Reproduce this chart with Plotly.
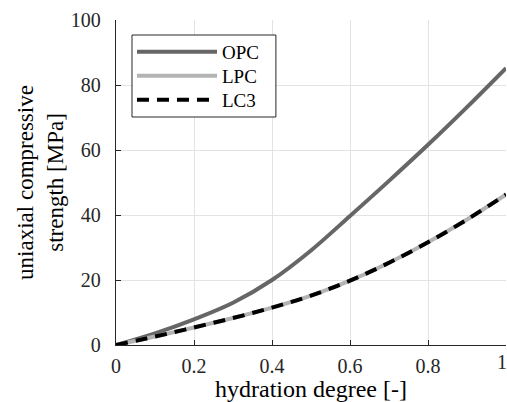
import plotly.graph_objects as go

hydration = [0.0, 0.1, 0.2, 0.3, 0.4, 0.5, 0.6, 0.7, 0.8, 0.9, 1.0]
opc = [0.0, 3.6, 7.9, 13.0, 20.0, 29.1, 39.7, 50.5, 61.6, 73.2, 85.2]
lpc = [0.0, 2.6, 5.4, 8.3, 11.5, 15.2, 19.8, 25.3, 31.6, 38.6, 46.3]
lc3 = [0.0, 2.6, 5.4, 8.3, 11.5, 15.2, 19.8, 25.3, 31.6, 38.6, 46.3]
series_names = ["OPC", "LPC", "LC3"]
x_ticks = [0, 0.2, 0.4, 0.6, 0.8, 1]
x_labels = ["0", "0.2", "0.4", "0.6", "0.8", "1"]
y_ticks = [0, 20, 40, 60, 80, 100]

FONT = "Liberation Serif"
AX = "#262626"

fig = go.Figure()
styles = [
    dict(color="#666666", width=4),
    dict(color="#b3b3b3", width=4),
    dict(color="#000000", width=4, dash="12px,8px"),
]
legend_ids = ["legend", "legend2", "legend3"]
for name, ys, st, lg in zip(series_names, [opc, lpc, lc3], styles, legend_ids):
    fig.add_trace(go.Scatter(x=hydration, y=ys, name=name, mode="lines",
                             line=dict(shape="spline", smoothing=1.0, **st),
                             legend=lg))

# legend frame (paper coordinates)
fig.add_shape(type="rect", xref="paper", yref="paper",
              x0=0.041, x1=0.410, y0=0.7015, y1=0.9538,
              line=dict(color=AX, width=1), fillcolor="white", layer="above")

# last x tick label, nudged inward so it stays on the page
fig.add_annotation(x=x_ticks[-1], y=y_ticks[0], xref="x", yref="y",
                   text=x_labels[-1], showarrow=False,
                   xanchor="center", yanchor="top", xshift=-4, yshift=-4,
                   font=dict(family=FONT, size=20, color=AX))

row_y = [0.9015, 0.8277, 0.7538]
leg_common = dict(x=0.041, xanchor="left", yanchor="middle",
                  bgcolor="rgba(0,0,0,0)", borderwidth=0,
                  font=dict(family=FONT, size=19, color="#000000"),
                  itemwidth=80)

fig.update_layout(
    width=507, height=402,
    margin=dict(l=116, r=1, t=20, b=57, autoexpand=False),
    paper_bgcolor="white", plot_bgcolor="white",
    font=dict(family=FONT, size=20, color=AX),
    showlegend=True,
    legend=dict(y=row_y[0], **leg_common),
    legend2=dict(y=row_y[1], **leg_common),
    legend3=dict(y=row_y[2], **leg_common),
    xaxis=dict(range=[0, 1], tickvals=x_ticks, ticktext=x_labels[:-1] + [""],
               automargin=False,
               showgrid=True, gridcolor="#e3e3e3", gridwidth=1,
               showline=True, linecolor=AX, linewidth=1.3,
               ticks="inside", ticklen=5, tickcolor=AX,
               ticklabelstandoff=3,
               tickfont=dict(family=FONT, size=20, color=AX),
               zeroline=False, mirror=False,
               title=dict(text="hydration degree [-]", standoff=0,
                          font=dict(family=FONT, size=24, color="#000000"))),
    yaxis=dict(range=[0, 100], tickvals=y_ticks,
               automargin=False,
               showgrid=True, gridcolor="#e3e3e3", gridwidth=1,
               showline=True, linecolor=AX, linewidth=1.3,
               ticks="inside", ticklen=5, tickcolor=AX,
               ticklabelstandoff=10, ticklabeloverflow="allow",
               tickfont=dict(family=FONT, size=20, color=AX),
               zeroline=False, mirror=False,
               title=dict(text="uniaxial compressive<br>strength [MPa]", standoff=0,
                          font=dict(family=FONT, size=23, color="#000000"))),
)

fig.write_html("out.html", config={"displayModeBar": False},
               post_script="document.body.style.margin='0';document.body.style.overflow='hidden';")
